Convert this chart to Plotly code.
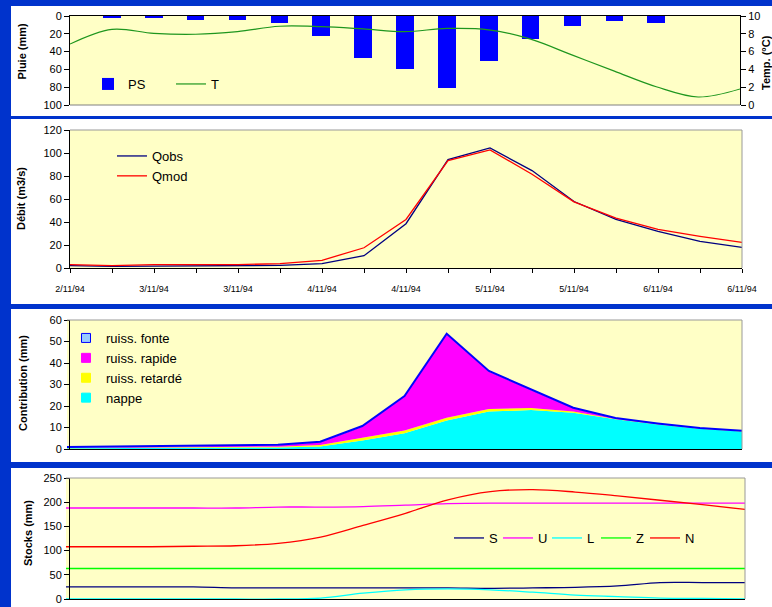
import plotly.graph_objects as go

# ---------------- data ----------------
steps = list(range(17))
tick_text = ["2/11/94", "", "3/11/94", "", "3/11/94", "", "4/11/94", "", "4/11/94", "",
             "5/11/94", "", "5/11/94", "", "6/11/94", "", "6/11/94"]

ps = [0, 2, 2, 5, 4, 8, 22, 47, 60, 81, 50, 26, 11, 6, 8, 0, 0]
temp = [6.85, 8.5, 8.05, 7.95, 8.25, 8.85, 8.8, 8.55, 8.25, 8.6, 8.45, 7.4, 5.6, 3.8, 2.05, 0.9, 1.8]

qobs = [2, 1.5, 1.7, 1.7, 1.7, 2.3, 3.8, 10.7, 38.5, 94.3, 104.4, 84.7, 57.8, 42.2, 31.8, 23.1, 17.9]
qmod = [3, 2, 2.9, 2.9, 2.9, 3.8, 6.7, 17.6, 42.2, 93.4, 102.7, 81.5, 57.5, 43.4, 33.5, 27.5, 22.3]

nappe = [0.3, 0.4, 0.4, 0.5, 0.5, 0.7, 1.2, 4.0, 7.3, 13.2, 17.4, 18.1, 16.9, 13.8, 11.4, 9.4, 8.1]
retarde = [0.2, 0.2, 0.2, 0.2, 0.3, 0.4, 0.7, 1.2, 1.3, 1.3, 1.2, 1.0, 0.6, 0.2, 0.1, 0.1, 0.1]
rapide = [0.1, 0.2, 0.3, 0.4, 0.4, 0.6, 1.2, 5.2, 15.7, 38.8, 17.4, 8.5, 1.4, 0.2, 0.2, 0.1, 0.1]
fonte = [0.3, 0.3, 0.3, 0.3, 0.3, 0.3, 0.3, 0.3, 0.3, 0.3, 0.3, 0.3, 0.3, 0.2, 0.2, 0.2, 0.2]

stock_S = [25, 25, 25, 25, 23, 23, 23, 23, 23, 23, 22, 23, 24, 27, 34, 34, 34]
stock_U = [188, 188, 188, 188, 188, 190, 190, 191, 194, 197, 198, 198, 198, 198, 198, 198, 198]
stock_L = [0, 0, 0, 0, 0, 0, 2, 12, 19, 21, 19, 14, 8, 5, 2, 1, 0]
stock_Z = [63] * 17
stock_N = [108, 108, 108, 109, 110, 115, 128, 152, 177, 205, 222, 226, 221, 213, 204, 195, 185]

# ---------------- helpers ----------------
W, H = 772, 607
FONT = "Arial, Liberation Sans, sans-serif"


def fx(px):
    return px / W


def fy(py):
    return 1 - py / H


BLUE_BG = "#0033CC"
PLOT_BG = "#FFFFC6"

fig = go.Figure()

# Panel 1: rain bars + temperature
fig.add_trace(go.Bar(x=steps, y=ps, width=0.42, marker=dict(color="#0000FF", line=dict(width=0)),
                     name="PS", xaxis="x", yaxis="y", legend="legend"))
fig.add_trace(go.Scatter(x=steps, y=temp, mode="lines", line=dict(color="#1E961E", width=1.2, shape="spline"),
                         name="T", xaxis="x", yaxis="y2", legend="legend"))

# Panel 2: discharge
fig.add_trace(go.Scatter(x=steps, y=qobs, mode="lines", line=dict(color="#000080", width=1.3),
                         name="Qobs", xaxis="x2", yaxis="y3", legend="legend2"))
fig.add_trace(go.Scatter(x=steps, y=qmod, mode="lines", line=dict(color="#FF0000", width=1.3),
                         name="Qmod", xaxis="x2", yaxis="y3", legend="legend2"))

# Panel 3: stacked contributions
for vals, nm, col in [(nappe, "nappe", "#00FFFF"), (retarde, "ruiss. retardé", "#FFFF00"),
                      (rapide, "ruiss. rapide", "#FF00FF")]:
    fig.add_trace(go.Scatter(x=steps, y=vals, mode="lines", stackgroup="c", fillcolor=col,
                             line=dict(width=0, color=col), name=nm, showlegend=False,
                             xaxis="x3", yaxis="y4"))
fig.add_trace(go.Scatter(x=steps, y=fonte, mode="lines", stackgroup="c", fillcolor="#99CCFF",
                         line=dict(width=2, color="#0000FF"), name="ruiss. fonte", showlegend=False,
                         xaxis="x3", yaxis="y4"))
# legend swatches for panel 3
for nm, col, lc in [("ruiss. fonte", "#99CCFF", "#0000FF"), ("ruiss. rapide", "#FF00FF", "#FF00FF"),
                    ("ruiss. retardé", "#FFFF00", "#FFFF00"), ("nappe", "#00FFFF", "#00FFFF")]:
    fig.add_trace(go.Scatter(x=[None], y=[None], mode="markers", name=nm,
                             marker=dict(symbol="square", size=9, color=col, line=dict(color=lc, width=1)),
                             xaxis="x3", yaxis="y4", legend="legend3"))

# Panel 4: stocks
for vals, nm, col in [(stock_S, "S", "#000080"), (stock_U, "U", "#FF00FF"), (stock_L, "L", "#00FFFF"),
                      (stock_Z, "Z", "#00FF00"), (stock_N, "N", "#FF0000")]:
    fig.add_trace(go.Scatter(x=steps, y=vals, mode="lines", line=dict(color=col, width=1.3, shape="spline"),
                             name=nm, xaxis="x4", yaxis="y5", legend="legend4"))

ax_common = dict(showgrid=False, zeroline=False, linecolor="black", linewidth=1, tickcolor="black",
                 tickfont=dict(size=11, color="black", family=FONT))
yax = dict(ax_common, showline=True, ticks="outside", ticklen=5)
xhid = dict(showgrid=False, zeroline=False, showline=True, linecolor="black", linewidth=1,
            showticklabels=False, ticks="", range=[0, 16])

fig.update_layout(
    width=W, height=H, autosize=False,
    margin=dict(l=0, r=0, t=0, b=0, autoexpand=False),
    paper_bgcolor="white", plot_bgcolor=PLOT_BG,
    font=dict(family=FONT, color="black"),
    bargap=0,
    xaxis=dict(xhid, domain=[fx(70), fx(740)], anchor="y", side="top"),
    yaxis=dict(yax, domain=[fy(105), fy(16)], range=[100, 0], tickvals=[0, 20, 40, 60, 80, 100]),
    yaxis2=dict(yax, overlaying="y", side="right", anchor="x", range=[0, 10], dtick=2),
    xaxis2=dict(ax_common, domain=[fx(70), fx(742)], anchor="y3", range=[0, 16], showline=True,
                tickvals=steps, ticktext=tick_text, ticks="outside", ticklen=4,
                tickfont=dict(size=9, color="black", family=FONT), ticklabelstandoff=8),
    yaxis3=dict(yax, domain=[fy(268), fy(130)], range=[0, 120], dtick=20),
    xaxis3=dict(xhid, domain=[fx(67), fx(742)], anchor="y4"),
    yaxis4=dict(yax, domain=[fy(449), fy(320)], range=[0, 60], dtick=10),
    xaxis4=dict(xhid, domain=[fx(66), fx(745)], anchor="y5"),
    yaxis5=dict(yax, domain=[fy(599), fy(478)], range=[0, 250], dtick=50),
    legend=dict(orientation="h", x=fx(88), y=fy(69), xanchor="left", yanchor="top", traceorder="normal",
                bgcolor="rgba(0,0,0,0)", font=dict(size=13), entrywidth=38, entrywidthmode="pixels"),
    legend2=dict(x=fx(112), y=fy(141), xanchor="left", yanchor="top", bgcolor="rgba(0,0,0,0)",
                 font=dict(size=13), traceorder="normal"),
    legend3=dict(x=fx(66), y=fy(323), xanchor="left", yanchor="top", bgcolor="rgba(0,0,0,0)",
                 font=dict(size=13), traceorder="normal"),
    legend4=dict(orientation="h", x=fx(449), y=fy(523), xanchor="left", yanchor="top", traceorder="normal",
                 bgcolor="rgba(0,0,0,0)", font=dict(size=13), entrywidth=4, entrywidthmode="pixels"),
)

shapes = []
# blue frame bands
for x0, y0, x1, y1 in [(0, 0, W, 6), (0, 0, 11, H), (0, 116, W, 119), (0, 304, W, 309), (0, 462, W, 468)]:
    shapes.append(dict(type="rect", xref="paper", yref="paper", x0=fx(x0), x1=fx(x1), y0=fy(y1), y1=fy(y0),
                       fillcolor=BLUE_BG, line=dict(width=0), layer="below"))
# grey plot-area borders
GREY = "#999999"
for (l, r, t, b) in [(70, 742, 130, 268), (67, 742, 320, 449), (66, 745, 478, 599)]:
    shapes.append(dict(type="line", xref="paper", yref="paper", x0=fx(l), x1=fx(r), y0=fy(t), y1=fy(t),
                       line=dict(color=GREY, width=1), layer="above"))
    shapes.append(dict(type="line", xref="paper", yref="paper", x0=fx(r), x1=fx(r), y0=fy(t), y1=fy(b),
                       line=dict(color=GREY, width=1), layer="above"))
shapes.append(dict(type="line", xref="paper", yref="paper", x0=fx(70), x1=fx(740), y0=fy(105), y1=fy(105),
                   line=dict(color="#808080", width=1), layer="above"))
fig.update_layout(shapes=shapes)

# axis titles
titles = [("Pluie (mm)", 21.5, 51), ("Temp. (°C)", 766, 63), ("Débit (m3/s)", 21, 199),
          ("Contribution (mm)", 23, 383), ("Stocks (mm)", 28, 533)]
for txt, px, py in titles:
    fig.add_annotation(text="<b>" + txt + "</b>", x=fx(px), y=fy(py), xref="paper", yref="paper",
                       showarrow=False, textangle=-90, xanchor="center", yanchor="middle",
                       font=dict(size=11, family=FONT, color="black"))

fig.write_html("out.html", config={"displayModeBar": False},
               post_script="document.body.style.margin='0px';document.body.style.overflow='hidden';")
